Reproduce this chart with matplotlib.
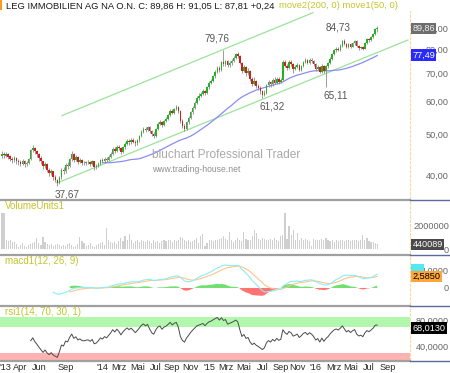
"""
LEG Immobilien weekly candle chart with volume, MACD and RSI panels,
styled after a bluchart screenshot.
"""

import matplotlib
matplotlib.use("Agg")
import matplotlib.pyplot as plt
import matplotlib.transforms as mtransforms
from matplotlib.lines import Line2D
from matplotlib.patches import Rectangle
from matplotlib.ticker import FixedLocator, FuncFormatter, NullLocator
import numpy as np
import pandas as pd

plt.rcParams["font.family"] = ["Liberation Sans", "DejaVu Sans"]

# ── Data (weekly bars) ───────────────────────────────────────────────────────
FIRST_WEEK = "2013-01-28"
TITLE_NAME = "LEG IMMOBILIEN AG NA O.N."
TITLE_MA = "move2(200, 0) move1(50, 0)"

OPENS = [
    44.5, 45.0, 44.5, 44.8, 44.3, 43.8, 43.4, 43.9, 43.2, 43.0,
    42.6, 43.1, 42.4, 42.8, 43.7, 45.8, 46.4, 45.6, 44.9, 44.0,
    43.1, 42.0, 42.5, 41.2, 40.4, 40.8, 39.6, 39.0, 38.3, 39.5,
    41.2, 40.8, 42.3, 42.0, 43.6, 44.9, 43.5, 44.1, 43.0, 43.4,
    42.8, 42.7, 42.9, 43.0, 42.6, 43.1, 41.8, 42.0, 42.6, 43.4,
    43.1, 43.8, 43.5, 44.2, 45.0, 46.2, 45.7, 46.8, 46.3, 45.5,
    46.6, 47.5, 48.3, 47.9, 48.6, 48.1, 47.6, 48.4, 49.5, 50.8,
    51.6, 51.2, 52.0, 51.0, 50.1, 49.7, 51.5, 53.0, 53.6, 52.8,
    53.9, 54.5, 55.6, 57.0, 56.4, 57.5, 58.2, 57.0, 54.0, 52.4,
    51.6, 53.5, 54.8, 56.5, 58.0, 59.5, 61.3, 62.0, 62.6, 63.5,
    62.8, 64.8, 66.5, 67.2, 68.9, 70.5, 72.0, 71.2, 74.5, 73.6,
    74.8, 73.2, 74.0, 75.0, 76.2, 77.8, 77.2, 74.3, 71.0, 72.4,
    70.2, 70.8, 68.0, 66.2, 67.0, 65.5, 64.6, 63.4, 62.2, 63.0,
    65.6, 66.8, 65.9, 67.4, 66.5, 68.0, 66.9, 67.5, 74.6, 73.0,
    72.0, 74.6, 73.8, 71.9, 72.6, 73.4, 71.5, 72.8, 74.6, 75.3,
    74.2, 75.6, 74.9, 73.7, 71.8, 72.6, 70.6, 73.0, 71.0, 72.8,
    74.0, 76.0, 77.8, 79.5, 80.3, 79.8, 81.5, 83.8, 82.4, 81.0,
    82.2, 81.2, 82.6, 83.6, 81.5, 80.5, 81.0, 80.3, 82.8, 84.5,
    84.0, 85.4, 86.8, 89.62,
]
HIGHS = [
    45.6, 45.4, 45.3, 45.1, 44.6, 44.2, 44.4, 44.1, 43.7, 43.4,
    43.6, 43.4, 43.2, 44.0, 46.2, 47.2, 46.8, 45.9, 45.2, 44.4,
    43.3, 43.0, 42.7, 41.6, 41.3, 41.0, 39.9, 39.2, 39.8, 41.6,
    41.7, 42.7, 42.9, 44.0, 45.6, 45.2, 44.6, 44.3, 43.9, 43.6,
    43.2, 43.3, 43.4, 43.3, 43.5, 43.3, 42.5, 43.0, 43.8, 43.9,
    44.2, 44.2, 44.6, 45.4, 46.6, 46.7, 47.3, 47.2, 46.6, 47.0,
    47.9, 48.8, 48.7, 49.1, 49.0, 48.5, 48.8, 49.9, 51.3, 52.1,
    52.0, 52.5, 52.3, 51.4, 50.6, 51.9, 53.5, 54.1, 53.9, 54.3,
    55.0, 56.1, 57.5, 57.4, 58.0, 58.9, 58.5, 57.3, 54.4, 52.9,
    53.9, 55.3, 57.0, 58.5, 60.1, 61.9, 62.7, 63.3, 64.2, 64.0,
    65.3, 67.1, 68.0, 69.5, 71.2, 72.8, 72.9, 75.2, 79.76, 75.5,
    75.3, 74.8, 75.7, 76.9, 78.5, 78.6, 77.6, 74.7, 73.4, 72.8,
    72.3, 71.2, 68.5, 68.8, 67.6, 66.2, 65.2, 63.9, 63.8, 66.1,
    67.6, 67.2, 68.2, 68.5, 68.7, 68.6, 68.3, 75.6, 75.3, 73.8,
    75.3, 75.4, 74.2, 73.4, 74.3, 73.8, 73.5, 75.2, 76.1, 76.0,
    76.3, 76.2, 75.4, 74.1, 73.3, 73.0, 73.6, 73.4, 73.5, 74.7,
    76.6, 78.4, 80.2, 81.0, 81.1, 82.2, 84.4, 84.73, 82.9, 82.8,
    82.7, 83.2, 84.2, 84.0, 82.0, 81.6, 81.5, 83.3, 85.0, 85.2,
    86.0, 87.4, 90.2, 91.05,
]
LOWS = [
    43.9, 44.0, 44.1, 43.7, 43.2, 42.8, 43.0, 42.5, 42.3, 42.0,
    42.2, 41.8, 42.0, 42.5, 43.5, 45.3, 45.0, 44.2, 43.3, 42.5,
    41.4, 41.6, 40.6, 39.8, 40.0, 39.0, 38.5, 37.67, 38.0, 39.2,
    40.2, 40.5, 41.4, 41.7, 43.3, 43.0, 43.1, 42.6, 42.7, 42.3,
    42.2, 42.3, 42.5, 42.1, 42.2, 41.2, 41.3, 41.7, 42.3, 42.7,
    42.8, 43.0, 43.2, 43.9, 44.7, 45.2, 45.4, 45.8, 45.0, 45.2,
    46.2, 47.1, 47.3, 47.5, 47.7, 47.0, 47.2, 48.1, 49.2, 50.4,
    50.6, 50.9, 50.5, 49.5, 49.0, 49.4, 51.2, 52.6, 52.2, 52.5,
    53.5, 54.2, 55.3, 55.9, 56.0, 57.1, 56.4, 53.4, 51.8, 50.9,
    51.2, 53.1, 54.4, 56.1, 57.6, 59.1, 60.6, 61.4, 62.1, 62.1,
    62.5, 64.3, 66.0, 66.8, 68.4, 70.0, 70.4, 70.8, 72.8, 73.0,
    72.5, 72.7, 73.5, 74.5, 75.8, 76.4, 73.6, 70.3, 70.4, 69.1,
    69.5, 67.2, 65.4, 65.7, 64.6, 63.8, 62.6, 61.32, 61.8, 62.6,
    65.0, 65.1, 65.5, 65.9, 66.0, 66.2, 66.4, 67.2, 72.4, 71.2,
    71.6, 73.1, 70.2, 71.2, 72.0, 70.9, 71.0, 72.4, 74.0, 73.6,
    73.8, 74.2, 73.0, 71.0, 71.2, 70.0, 70.2, 70.3, 65.11, 72.3,
    73.6, 75.6, 77.4, 79.0, 79.2, 79.4, 81.2, 81.9, 80.4, 80.6,
    80.7, 80.9, 82.1, 81.0, 79.9, 80.0, 79.6, 80.0, 82.4, 83.5,
    83.7, 85.0, 86.5, 87.81,
]
CLOSES = [
    45.0, 44.6, 44.8, 44.2, 43.8, 43.5, 43.9, 43.2, 43.0, 42.6,
    43.1, 42.4, 42.8, 43.6, 45.8, 46.5, 45.6, 44.9, 44.0, 43.1,
    42.0, 42.5, 41.2, 40.4, 40.8, 39.6, 39.0, 38.3, 39.5, 41.2,
    40.8, 42.3, 42.0, 43.6, 44.9, 43.5, 44.1, 43.0, 43.4, 42.8,
    42.7, 42.9, 43.0, 42.6, 43.1, 41.8, 42.0, 42.6, 43.4, 43.1,
    43.8, 43.5, 44.2, 45.0, 46.2, 45.7, 46.8, 46.3, 45.5, 46.6,
    47.5, 48.3, 47.9, 48.6, 48.1, 47.6, 48.4, 49.5, 50.8, 51.6,
    51.2, 52.0, 51.0, 50.1, 49.7, 51.5, 53.0, 53.6, 52.8, 53.9,
    54.5, 55.6, 57.0, 56.4, 57.5, 58.2, 57.0, 54.0, 52.4, 51.6,
    53.5, 54.8, 56.5, 58.0, 59.5, 61.3, 62.0, 62.6, 63.5, 62.8,
    64.8, 66.5, 67.2, 68.9, 70.5, 72.0, 71.2, 74.5, 73.6, 74.8,
    73.2, 74.0, 75.0, 76.2, 77.8, 77.2, 74.3, 71.0, 72.4, 70.2,
    70.8, 68.0, 66.2, 67.0, 65.5, 64.6, 63.4, 62.2, 63.0, 65.6,
    66.8, 65.9, 67.4, 66.5, 68.0, 66.9, 67.5, 74.6, 73.0, 72.0,
    74.6, 73.8, 71.9, 72.6, 73.4, 71.5, 72.8, 74.6, 75.3, 74.2,
    75.6, 74.9, 73.7, 71.8, 72.6, 70.6, 73.0, 71.0, 72.8, 74.0,
    76.0, 77.8, 79.5, 80.3, 79.8, 81.5, 83.8, 82.4, 81.0, 82.2,
    81.2, 82.6, 83.6, 81.5, 80.5, 81.0, 80.3, 82.8, 84.5, 84.0,
    85.4, 86.8, 89.62, 89.86,
]
VOLUME_K = [  # thousands of shares
    3100, 3080, 790, 700, 790, 590, 650, 420, 230, 370,
    510, 310, 230, 370, 420, 510, 650, 930, 510, 370,
    1070, 590, 420, 370, 420, 310, 370, 420, 370, 310,
    370, 310, 420, 510, 370, 230, 310, 420, 1070, 700,
    510, 310, 370, 510, 310, 230, 370, 420, 510, 650,
    370, 1780, 790, 650, 510, 650, 420, 700, 970, 700,
    1110, 780, 1330, 830, 560, 700, 780, 610, 830, 700,
    610, 780, 700, 560, 750, 610, 700, 560, 700, 780,
    700, 830, 750, 610, 780, 700, 830, 1060, 970, 780,
    700, 750, 610, 700, 830, 970, 560, 1110, 1310, 280,
    560, 780, 830, 700, 780, 830, 890, 970, 1110, 890,
    780, 1450, 830, 610, 780, 970, 830, 700, 1450, 890,
    780, 830, 1110, 1610, 1390, 890, 830, 970, 890, 830,
    780, 890, 830, 970, 830, 700, 1110, 1170, 3110, 890,
    1950, 1250, 1610, 830, 1390, 830, 970, 780, 890, 830,
    700, 280, 890, 830, 780, 830, 890, 780, 970, 830,
    700, 830, 610, 780, 700, 830, 780, 700, 830, 780,
    700, 780, 830, 780, 700, 830, 1170, 780, 970, 700,
    610, 610, 560, 440.089,
]

# swing points marked on the chart: (bar index, "high"/"low")
SWING_BARS = [27, 108, 127, 167, 158]
SWING_KIND = ["low", "high", "low", "high", "low"]

# hand-drawn trend channel (bar index, price)
TREND_LOWER_BARS = [26.8, 198.0]
TREND_LOWER_PRICES = [38.27, 84.2]
TREND_UPPER_BARS = [29.3, 151.7]
TREND_UPPER_PRICES = [55.5, 97.9]

# values shown in the right-hand boxes
LAST_MA = 77.49
LAST_SIGNAL = 2.585
LAST_RSI = 68.013

TICK_MONTHS = ["2013-01", "2013-04", "2013-06", "2013-09", "2014-01", "2014-03",
               "2014-05", "2014-07", "2014-09", "2014-11", "2015-01", "2015-03",
               "2015-05", "2015-07", "2015-09", "2015-11", "2016-01", "2016-03",
               "2016-05", "2016-07", "2016-09"]
TICK_LABELS = ["'13", "Apr", "Jun", "Sep", "'14", "Mrz", "Mai", "Jul", "Sep", "Nov",
               "'15", "Mrz", "Mai", "Jul", "Sep", "Nov", "'16", "Mrz", "Mai", "Jul",
               "Sep"]

# ── Layout (pixel boxes of the original) ─────────────────────────────────────
W, H = 450, 373
X_RIGHT = 410
GREEN_UP = "#22b322"
RED_DOWN = "#d41c1c"
YELLOW = "#c4c42a"
AXIS_TXT = "#666666"
FS = 6.6
XLIM = (-0.98, 199.0)


def rect(x0, y0, x1, y1):
    return [x0 / W, 1 - y1 / H, (x1 - x0) / W, (y1 - y0) / H]


def de(v, fmt):
    return format(v, fmt).replace(".", ",")


def style_panel(ax, ticks, fmt):
    for side in ("top", "left", "bottom"):
        ax.spines[side].set_visible(False)
    ax.spines["right"].set_color("#f2dc9a")
    ax.spines["right"].set_linestyle((0, (2, 2)))
    ax.spines["right"].set_linewidth(0.8)
    ax.set_xlim(XLIM)
    ax.xaxis.set_major_locator(NullLocator())
    ax.yaxis.tick_right()
    ax.yaxis.set_major_locator(FixedLocator(ticks))
    ax.yaxis.set_minor_locator(NullLocator())
    ax.yaxis.set_major_formatter(FuncFormatter(
        lambda v, _: "0" if v == 0 else de(v, fmt)))
    ax.tick_params(axis="y", length=0, pad=28, labelsize=FS, labelcolor=AXIS_TXT)
    for lab in ax.get_yticklabels():
        lab.set_horizontalalignment("right")
    ax.set_facecolor("white")


def value_box(ax, y, text, face, color):
    tr = mtransforms.blended_transform_factory(ax.transAxes, ax.transData)
    ax.text(1.0 + 2.5 / X_RIGHT, y, text, transform=tr, fontsize=FS, color=color,
            va="center", ha="left", clip_on=False, zorder=10,
            bbox=dict(boxstyle="square,pad=0.12", fc=face, ec="none"))


def panel_label(y, text):
    fig.text(5 / W, 1 - y / H, text, fontsize=FS + 0.4, color=YELLOW, va="center")


o = np.array(OPENS)
hi = np.array(HIGHS)
lo = np.array(LOWS)
c = np.array(CLOSES)
vol = np.array(VOLUME_K) * 1000
n = len(c)
idx = np.arange(n)

# indicators
cs = pd.Series(c)
ma50 = cs.rolling(50).mean()
macd = cs.ewm(span=12, adjust=False).mean() - cs.ewm(span=26, adjust=False).mean()
signal = macd.ewm(span=9, adjust=False).mean()
hist = macd - signal
macd[:25] = np.nan
signal[:33] = np.nan
hist[:33] = np.nan
delta = cs.diff()
gain = delta.clip(lower=0).ewm(alpha=1 / 14, adjust=False, min_periods=14).mean()
loss = (-delta.clip(upper=0)).ewm(alpha=1 / 14, adjust=False, min_periods=14).mean()
rsi = 100 - 100 / (1 + gain / loss)

weeks = pd.date_range(FIRST_WEEK, periods=n + 20, freq="W-MON")
tick_pos = [weeks.searchsorted(pd.Timestamp(m + "-01")) for m in TICK_MONTHS]

fig = plt.figure(figsize=(W / 100, H / 100), dpi=100)
fig.patch.set_facecolor("white")

# ── Price panel ──────────────────────────────────────────────────────────────
ax = fig.add_axes(rect(0, 11, X_RIGHT, 199))
ax.set_yscale("log")
ax.set_ylim(35.04, 98.8)
style_panel(ax, [40, 50, 60, 70, 80, 90], ".2f")

ax.plot(TREND_LOWER_BARS, TREND_LOWER_PRICES, color="#9be39b", lw=0.9, zorder=1)
ax.plot(TREND_UPPER_BARS, TREND_UPPER_PRICES, color="#9be39b", lw=0.9, zorder=1)
ax.plot(idx, ma50, color="#8c8cf2", lw=0.9, zorder=1)

ax.vlines(idx, lo, hi, color="#8a8a8a", lw=0.6, zorder=2)
up = c >= o
ax.bar(idx[up], (c - o)[up], bottom=o[up], width=0.75, color=GREEN_UP, lw=0, zorder=3)
ax.bar(idx[~up], (o - c)[~up], bottom=c[~up], width=0.75, color=RED_DOWN, lw=0, zorder=3)

for bar, kind in zip(SWING_BARS, SWING_KIND):
    price = hi[bar] if kind == "high" else lo[bar]
    dy = 11 if kind == "high" else -9
    ax.annotate(de(price, ".2f"), (bar, price),
                xytext=(-6 if kind == "high" else 10, dy), textcoords="offset pixels",
                ha="center", va="center", fontsize=FS + 0.6, color="#555555")

ax.text(152 / X_RIGHT, 1 - (155 - 11) / 188, "bluchart Professional Trader",
        transform=ax.transAxes, fontsize=8.6, color="#a9a9a9", va="center")
ax.text(152 / X_RIGHT, 1 - (170 - 11) / 188, "www.trading-house.net",
        transform=ax.transAxes, fontsize=6.2, color="#8f8f8f", va="center")

value_box(ax, c[-1], de(c[-1], ".2f"), "#6e6e6e", "#eeeeee")
value_box(ax, LAST_MA, de(LAST_MA, ".2f"), "#2a2aff", "white")

# ── Volume panel ─────────────────────────────────────────────────────────────
axv = fig.add_axes(rect(0, 201, X_RIGHT, 253))
axv.set_ylim(-313000, 4090000)
style_panel(axv, [0, 2000000], ".0f")
axv.bar(idx, vol, width=0.55, color="#cfcfcf", lw=0)
value_box(axv, vol[-1], de(vol[-1], ".0f"), "#4a4a4a", "white")

# ── MACD panel ───────────────────────────────────────────────────────────────
axm = fig.add_axes(rect(0, 256, X_RIGHT, 304))
axm.set_ylim(-3.56, 7.11)
style_panel(axm, [0, 4], ".4f")
axm.fill_between(idx, 0, hist, where=hist >= 0, interpolate=True, color="#6fe06f", lw=0)
axm.fill_between(idx, 0, hist, where=hist < 0, interpolate=True, color="#ff7373", lw=0)
axm.plot(idx, signal, color="#ffc58c", lw=0.8)
axm.plot(idx, macd, color="#8aeef6", lw=0.8)
value_box(axm, macd.iloc[-1] + 1.0, "    ", "#55e8f0", "black")
value_box(axm, LAST_SIGNAL, de(LAST_SIGNAL, ".4f"), "#ffa63a", "black")

# ── RSI panel ────────────────────────────────────────────────────────────────
axr = fig.add_axes(rect(0, 307, X_RIGHT, 360))
axr.set_ylim(20.1, 99.5)
style_panel(axr, [40, 80], ".4f")
axr.axhspan(70, 85, color="#b2f7ae", lw=0)
axr.axhspan(20.1, 30, color="#ffb2b2", lw=0)
axr.plot(idx, rsi, color="#4a4a4a", lw=0.7)
value_box(axr, LAST_RSI, de(LAST_RSI, ".4f"), "black", "white")

# x axis labels under the last panel
axr.set_xticks(tick_pos)
axr.set_xticklabels(TICK_LABELS)
axr.tick_params(axis="x", length=0, pad=2.5, labelsize=6.6, labelcolor="#2a2a2a")
first = axr.get_xticklabels()[0]
first.set_horizontalalignment("left")
first.set_transform(first.get_transform()
                    + mtransforms.ScaledTranslation(-3 / 100, 0, fig.dpi_scale_trans))

# ── Title, panel names, separators ───────────────────────────────────────────
title = (f"{TITLE_NAME} C: {de(c[-1], '.2f')} H: {de(hi[-1], '.2f')} "
         f"L: {de(lo[-1], '.2f')} {de(c[-1] - c[-2], '+.2f')}")
t1 = fig.text(6 / W, 1 - 6 / H, title, fontsize=6.75, color="#1a1a1a", va="center")
fig.add_artist(plt.Annotation(TITLE_MA, xy=(1, 0.5), xycoords=t1, xytext=(3, 0),
                              textcoords="offset points", fontsize=6.75,
                              color=YELLOW, va="center"))

panel_label(206, "VolumeUnits1")
panel_label(261, "macd1(12, 26, 9)")
panel_label(312, "rsi1(14, 70, 30, 1)")

for y in (200, 254.5, 305.5, 361):
    fig.add_artist(Line2D([0, X_RIGHT / W], [1 - y / H] * 2, color="#a0a0a0", lw=1.6))
    fig.add_artist(Line2D([X_RIGHT / W, 1], [1 - y / H] * 2, color="#5a6a9a", lw=1.0))
fig.add_artist(Rectangle((0, 1 - 10 / H), 2 / W, 10 / H, color="#ff9a1a", lw=0))

fig.savefig("out.png", dpi=100, facecolor="white")
